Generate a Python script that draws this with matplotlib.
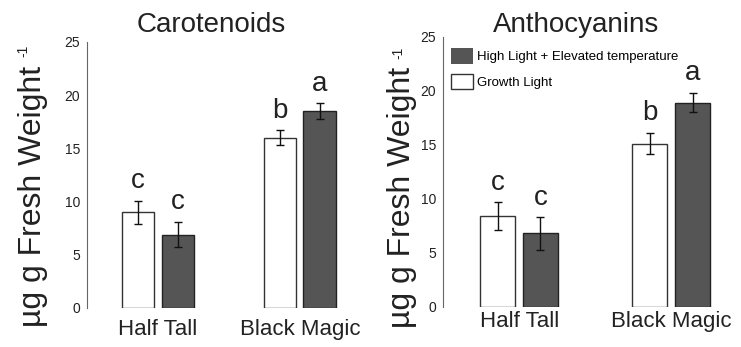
import matplotlib.pyplot as plt
import numpy as np
from matplotlib.patches import Patch

plt.rcParams['font.family'] = ['Liberation Sans', 'DejaVu Sans']

#data
cultivars = ["Half Tall", "Black Magic"]
titles = ["Carotenoids", "Anthocyanins"]
growth_vals = [[9.0, 16.0], [8.4, 15.1]]
growth_err = [[1.1, 0.7], [1.3, 1.0]]
high_vals = [[6.9, 18.5], [6.8, 18.9]]
high_err = [[1.2, 0.75], [1.5, 0.9]]
growth_letters = [["c", "b"], ["c", "b"]]
high_letters = [["c", "a"], ["c", "a"]]
yticks = [0, 5, 10, 15, 20, 25]

dark = "#555555"
txt = "#222222"
fig = plt.figure(figsize=(7.41, 3.47), dpi=100)
axes = [fig.add_axes([0.1174, 0.1124, 0.364, 0.7666]),
        fig.add_axes([0.598, 0.116, 0.390, 0.778])]
title_x = [0.285, 0.778]
xpad = [8, 3]
label_xy = [(-0.146, 0.42), (-0.090, 0.405)]
sup_xy = [(-0.235, 0.965), (-0.155, 0.94)]

x = np.arange(len(cultivars))
w = 0.23
off = 0.14
for i, ax in enumerate(axes):
    ax.bar(x - off, growth_vals[i], w, yerr=growth_err[i], color="white",
           edgecolor="#333333", linewidth=1.0, capsize=3,
           error_kw=dict(ecolor="#111111", elinewidth=1.0, capthick=1.0))
    ax.bar(x + off, high_vals[i], w, yerr=high_err[i], color=dark,
           edgecolor="#222222", linewidth=1.0, capsize=3,
           error_kw=dict(ecolor="#111111", elinewidth=1.0, capthick=1.0))
    for j in range(len(cultivars)):
        ax.annotate(growth_letters[i][j], (x[j] - off, growth_vals[i][j] + growth_err[i][j]),
                    xytext=(0, 9), textcoords="offset points", ha="center",
                    va="baseline", fontsize=20, color=txt)
        ax.annotate(high_letters[i][j], (x[j] + off, high_vals[i][j] + high_err[i][j]),
                    xytext=(0, 9), textcoords="offset points", ha="center",
                    va="baseline", fontsize=20, color=txt)
    ax.set_xlim(-0.5, 1.4)
    ax.set_ylim(0, 25)
    ax.set_yticks(yticks)
    ax.set_xticks(x)
    ax.set_xticklabels(cultivars, fontsize=16, color=txt)
    ax.tick_params(axis="y", length=0, pad=5, labelsize=10, labelcolor=txt)
    ax.tick_params(axis="x", length=0, pad=xpad[i])
    for s in ["top", "right", "bottom"]:
        ax.spines[s].set_visible(False)
    ax.spines["left"].set_color("#666666")
    fig.text(title_x[i], 0.928, titles[i], fontsize=20, color=txt,
             ha="center", va="center")
    ax.set_ylabel("µg g Fresh Weight", fontsize=23, color=txt)
    ax.yaxis.set_label_coords(*label_xy[i])
    ax.text(sup_xy[i][0], sup_xy[i][1], "-1", transform=ax.transAxes, rotation=90,
            fontsize=10, color=txt, ha="center", va="center")

handles = [Patch(facecolor=dark, edgecolor="none"),
           Patch(facecolor="white", edgecolor="#333333", linewidth=1.0)]
axes[1].legend(handles, ["High Light + Elevated temperature", "Growth Light"],
               loc="upper left", bbox_to_anchor=(0.029, 0.958), frameon=False,
               fontsize=9.5, handlelength=1.6, handleheight=1.45,
               handletextpad=0.3, labelspacing=0.75, borderpad=0, borderaxespad=0)

plt.savefig("out.png", dpi=100)
